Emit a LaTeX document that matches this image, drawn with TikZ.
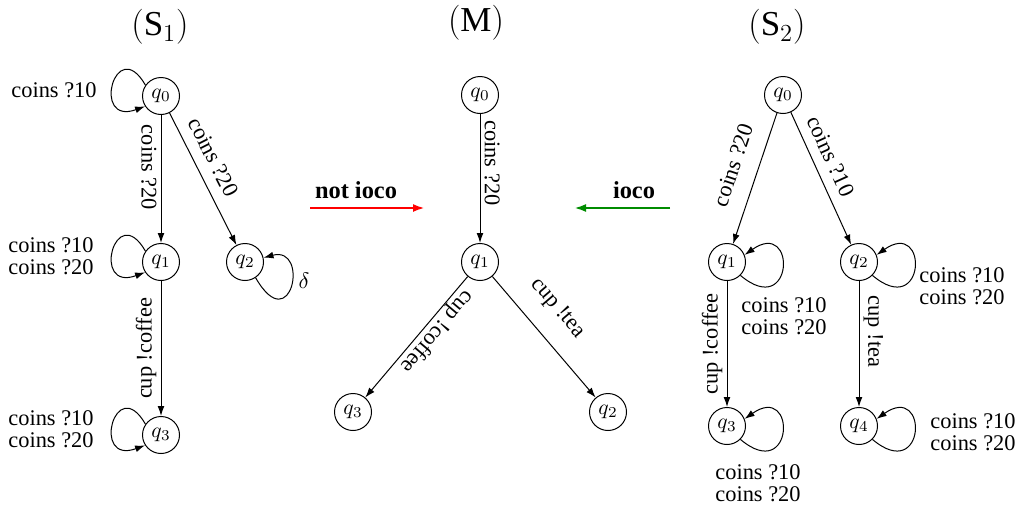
\RequirePackage{fix-cm}
\documentclass[tikz,border=0pt]{standalone}
\usepackage{fontspec}
\setmainfont{Liberation Serif}
\usetikzlibrary{arrows.meta}
\begin{document}
\begin{tikzpicture}[x=0.5pt,y=0.5pt,
  st/.style={circle,draw,line width=0.5pt,minimum size=18.5pt,inner sep=0pt,font=\fontsize{10.8}{12}\selectfont},
  tr/.style={-{Latex[length=5pt,width=3.4pt]},line width=0.5pt},
  lbl/.style={font=\fontsize{11.2}{10.8}\selectfont,inner sep=2pt},
  ll/.style={font=\fontsize{11.2}{10.8}\selectfont,align=center,inner sep=0pt},
  ttl/.style={font=\fontsize{17.5}{20}\selectfont},
  bl/.style={font=\fontsize{12.2}{14}\selectfont\bfseries,inner sep=0pt},
  big/.style={line width=1.2pt,-{Latex[length=6pt,width=4pt]}}
  ]
\useasboundingbox (0,0) rectangle (1022,-509);
% titles
\node[ttl] (t1) at (160,-27) {$(\mathrm{S}_1)$};
\node[ttl] (t2) at (476,-23) {$(\mathrm{M})$};
\node[ttl] (t3) at (777,-27) {$(\mathrm{S}_2)$};
% S1
\node[st] (a0) at (161,-96) {$q_0$};
\node[st] (a1) at (161,-262) {$q_1$};
\node[st] (a2) at (245,-262) {$q_2$};
\node[st] (a3) at (161,-435) {$q_3$};
\draw[tr] (a0) -- node[lbl,rotate=-90,anchor=north,pos=0.41] {coins ?20} (a1);
\draw[tr] (a0) -- node[lbl,sloped,above=3.5pt,pos=0.4] {coins ?20} (a2);
\draw[tr] (a1) -- node[lbl,rotate=90,anchor=south,midway] {cup !coffee} (a3);
\draw[tr] (a0.145) .. controls +(120:60) and +(200:58) .. (a0.213);
\draw[tr] (a1.145) .. controls +(120:60) and +(200:58) .. (a1.213);
\draw[tr] (a3.145) .. controls +(120:60) and +(200:58) .. (a3.213);
\draw[tr] (a2.-56) .. controls +(-60:72) and +(15:48) .. (a2.13);
\node[ll] (la0) at (54,-90) {coins ?10};
\node[ll] (la1) at (51,-256) {coins ?10\\coins ?20};
\node[ll] (la3) at (51,-429) {coins ?10\\coins ?20};
\node[font=\fontsize{11.2}{12}\selectfont,inner sep=0pt] (la2) at (304,-281) {$\delta$};
% middle arrows
\coordinate (r1) at (310,-208);
\coordinate (r2) at (425,-208);
\coordinate (g1) at (670,-208);
\coordinate (g2) at (574,-208);
\draw[big,red] (r1) -- (r2);
\draw[big,green!55!black] (g1) -- (g2);
\node[bl] (nl) at (356,-190) {not ioco};
\node[bl] (il) at (634,-190) {ioco};
% M
\node[st] (m0) at (480,-95) {$q_0$};
\node[st] (m1) at (480,-262) {$q_1$};
\node[st] (m3) at (353,-412) {$q_3$};
\node[st] (m2) at (608,-412) {$q_2$};
\draw[tr] (m0) -- node[lbl,rotate=-90,anchor=south,pos=0.38] {coins ?20} (m1);
\draw[tr] (m1) -- node[lbl,sloped,allow upside down,above=0pt,inner sep=0.6pt,pos=0.39] {cup !coffee} (m3);
\draw[tr] (m1) -- node[lbl,sloped,above=7.5pt,pos=0.42] {cup !tea} (m2);
% S2
\node[st] (c0) at (783,-95) {$q_0$};
\node[st] (c1) at (727,-262) {$q_1$};
\node[st] (c2) at (859,-262) {$q_2$};
\node[st] (c3) at (727,-426) {$q_3$};
\node[st] (c4) at (859,-426) {$q_4$};
\draw[tr] (c0) -- node[lbl,sloped,above=6.5pt,pos=0.46] {coins ?20} (c1);
\draw[tr] (c0) -- node[lbl,sloped,above=3pt,pos=0.39] {coins ?10} (c2);
\draw[tr] (c1) -- node[lbl,rotate=90,anchor=south,midway] {cup !coffee} (c3);
\draw[tr] (c2) -- node[lbl,rotate=-90,anchor=south,pos=0.4] {cup !tea} (c4);
\draw[tr] (c1.-45) .. controls +(-40:70) and +(35:64) .. (c1.22);
\draw[tr] (c2.-45) .. controls +(-40:70) and +(35:64) .. (c2.22);
\draw[tr] (c3.-45) .. controls +(-40:70) and +(35:64) .. (c3.22);
\draw[tr] (c4.-45) .. controls +(-40:70) and +(35:64) .. (c4.22);
\node[ll] (lc1) at (784,-316) {coins ?10\\coins ?20};
\node[ll] (lc2) at (962,-286) {coins ?10\\coins ?20};
\node[ll] (lc3) at (758,-483) {coins ?10\\coins ?20};
\node[ll] (lc4) at (973,-432) {coins ?10\\coins ?20};
\end{tikzpicture}
\end{document}
